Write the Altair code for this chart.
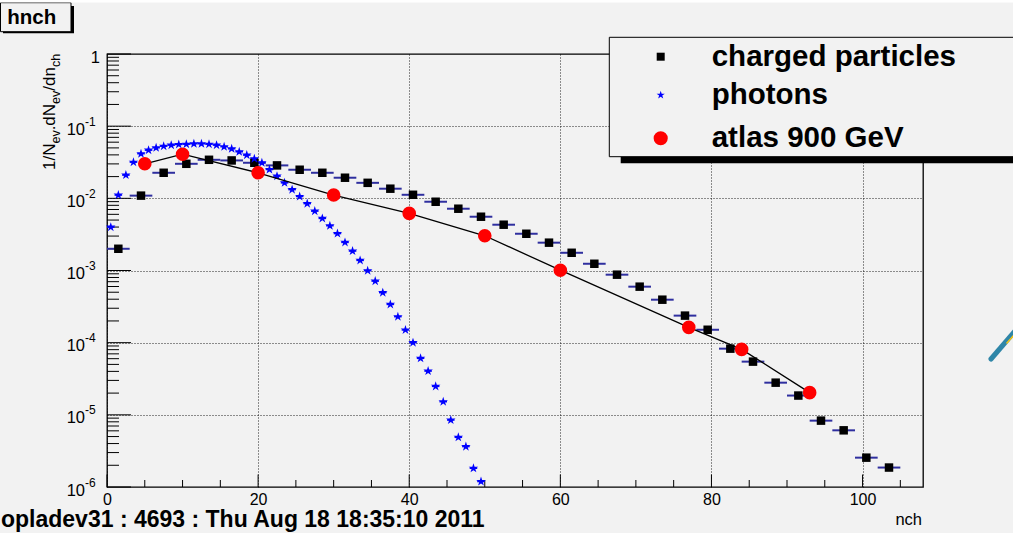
import altair as alt
import pandas as pd

# ---------------- data ----------------
charged_x = [1.5, 4.5, 7.5, 10.5, 13.5, 16.5, 19.5, 22.5, 25.5, 28.5,
             31.5, 34.5, 37.5, 40.5, 43.5, 46.5, 49.5, 52.5, 55.5, 58.5,
             61.5, 64.5, 67.5, 70.5, 73.5, 76.5, 79.5, 82.5, 85.5, 88.5,
             91.5, 94.5, 97.5, 100.5, 103.5]
charged_y = [2.0e-3, 1.09e-2, 2.26e-2, 3.01e-2, 3.42e-2, 3.35e-2, 3.11e-2, 2.86e-2, 2.49e-2, 2.26e-2,
             1.93e-2, 1.64e-2, 1.36e-2, 1.12e-2, 8.97e-3, 7.18e-3, 5.56e-3, 4.31e-3, 3.23e-3, 2.43e-3,
             1.76e-3, 1.24e-3, 8.75e-4, 5.97e-4, 3.94e-4, 2.37e-4, 1.51e-4, 8.26e-5, 5.46e-5, 2.79e-5,
             1.85e-5, 8.31e-6, 6.10e-6, 2.55e-6, 1.86e-6]
charged_halfwidth = 1.5

photon_x = [0.5, 1.5, 2.5, 3.5, 4.5, 5.5, 6.5, 7.5, 8.5, 9.5,
            10.5, 11.5, 12.5, 13.5, 14.5, 15.5, 16.5, 17.5, 18.5, 19.5,
            20.5, 21.5, 22.5, 23.5, 24.5, 25.5, 26.5, 27.5, 28.5, 29.5,
            30.5, 31.5, 32.5, 33.5, 34.5, 35.5, 36.5, 37.5, 38.5, 39.5,
            40.5, 41.5, 42.5, 43.5, 44.5, 45.5, 46.5, 47.5, 48.5, 49.5]
photon_y = [3.99e-3, 1.11e-2, 2.10e-2, 3.17e-2, 4.15e-2, 4.65e-2, 5.02e-2, 5.28e-2, 5.46e-2, 5.58e-2,
            5.63e-2, 5.71e-2, 5.71e-2, 5.63e-2, 5.46e-2, 5.19e-2, 4.86e-2, 4.42e-2, 3.97e-2, 3.54e-2,
            3.11e-2, 2.51e-2, 2.03e-2, 1.64e-2, 1.32e-2, 1.06e-2, 8.45e-3, 6.65e-3, 5.27e-3, 4.17e-3,
            3.25e-3, 2.45e-3, 1.86e-3, 1.38e-3, 9.94e-4, 7.13e-4, 4.93e-4, 3.39e-4, 2.29e-4, 1.50e-4,
            1.00e-4, 6.07e-5, 4.04e-5, 2.48e-5, 1.52e-5, 8.47e-6, 4.88e-6, 3.63e-6, 1.82e-6, 1.19e-6]
photon_halfwidth = 0.5

atlas_x = [5, 10, 20, 30, 40, 50, 60, 77, 84, 93]
atlas_y = [3.01e-2, 4.09e-2, 2.26e-2, 1.11e-2, 6.18e-3, 3.03e-3, 1.01e-3, 1.63e-4, 8.07e-5, 2.03e-5]

legend_labels = ["charged particles", "photons", "atlas 900 GeV"]

x_label_values = [0, 20, 40, 60, 80, 100]
x_minor_ticks = [5, 10, 15, 25, 30, 35, 45, 50, 55, 65, 70, 75, 85, 90, 95, 105]
y_decades = [1e-6, 1e-5, 1e-4, 1e-3, 1e-2, 1e-1]
y_exponents = ["-6", "-5", "-4", "-3", "-2", "-1"]
y_minor_mult = [2, 3, 4, 5, 6, 7, 8, 9]

title_text = "hnch"
footer_text = "opladev31 : 4693 : Thu Aug 18 18:35:10 2011"
x_title = "nch"

# ---------------- layout / style ----------------
W, H = 816, 433
FONT = "Liberation Sans"
BG = "#f2f2f2"
BAR = "#2f2f9f"
STAR = ("M0,-1L0.2245,-0.309L0.9511,-0.309L0.3633,0.118L0.5878,0.809L0,0.382"
        "L-0.5878,0.809L-0.3633,0.118L-0.9511,-0.309L-0.2245,-0.309Z")

xscale = alt.Scale(domain=[0, 108], nice=False, zero=False)
yscale = alt.Scale(type="log", domain=[1e-6, 1], nice=False)
xaxis = alt.Axis(values=x_label_values, grid=True, gridDash=[1, 2], gridColor="black",
                 gridOpacity=0.85, ticks=False, domain=False, labelFontSize=16, labelFont=FONT,
                 labelColor="black", labelPadding=4, title=None, labelFlush=False,
                 labelOverlap=False)
yaxis = alt.Axis(values=[1e-5, 1e-4, 1e-3, 1e-2, 1e-1], grid=True, gridDash=[1, 2],
                 gridColor="black", gridOpacity=0.85, ticks=False, domain=False,
                 labels=False, title=None)


def X(f):
    return alt.X(f, type="quantitative", scale=xscale, axis=xaxis)


def Y(f):
    return alt.Y(f, type="quantitative", scale=yscale, axis=yaxis)


one = alt.Data(values=[{"k": 0}])

df_c = pd.DataFrame({"x": charged_x, "y": charged_y})
df_c["xlo"] = df_c["x"] - charged_halfwidth
df_c["xhi"] = df_c["x"] + charged_halfwidth
df_p = pd.DataFrame({"x": photon_x, "y": photon_y})
df_p["xlo"] = df_p["x"] - photon_halfwidth
df_p["xhi"] = df_p["x"] + photon_halfwidth
df_a = pd.DataFrame({"x": atlas_x, "y": atlas_y})

df_xmaj = pd.DataFrame({"x": x_label_values})
df_xmin = pd.DataFrame({"x": x_minor_ticks})
df_ymaj = pd.DataFrame({"v": y_decades + [1.0]})
df_ymin = pd.DataFrame({"v": [m * d for d in y_decades for m in y_minor_mult]})
df_ylab = pd.DataFrame({"v": y_decades, "e": y_exponents})

layers = []

# ticks (inward)
layers.append(alt.Chart(df_xmaj).mark_rule(color="black", strokeWidth=1).encode(
    x=X("x"), y=alt.value(H), y2=alt.value(H - 12.5)))
layers.append(alt.Chart(df_xmin).mark_rule(color="black", strokeWidth=1).encode(
    x=X("x"), y=alt.value(H), y2=alt.value(H - 7)))
layers.append(alt.Chart(df_ymaj).mark_rule(color="black", strokeWidth=1).encode(
    y=Y("v"), x=alt.value(0), x2=alt.value(24)))
layers.append(alt.Chart(df_ymin).mark_rule(color="black", strokeWidth=1).encode(
    y=Y("v"), x=alt.value(0), x2=alt.value(12)))

# y tick labels 10^n
layers.append(alt.Chart(df_ylab).mark_text(text="10", align="right", baseline="middle",
                                           fontSize=16.5, font=FONT, color="black", dy=3.5).encode(
    y=Y("v"), x=alt.value(-22)))
layers.append(alt.Chart(df_ylab).mark_text(align="left", baseline="middle",
                                           fontSize=12, font=FONT, color="black", dy=-4.5).encode(
    y=Y("v"), x=alt.value(-22), text="e:N"))
layers.append(alt.Chart(pd.DataFrame({"v": [1.0]})).mark_text(
    text="1", align="right", baseline="middle", fontSize=16.5, font=FONT, color="black", dy=4).encode(
    y=Y("v"), x=alt.value(-7)))

# y axis title with subscripts
pieces = [("1/N", 0, 17, 0), ("ev", 26.45, 12.5, 5), (".dN", 39.65, 17, 0),
          ("ev", 66.1, 12.5, 5), ("/dn", 79.3, 17, 0), ("ch", 102.9, 12.5, 5)]
for txt, dx, fs, dy in pieces:
    layers.append(alt.Chart(one).mark_text(
        text=txt, angle=270, align="left", baseline="alphabetic", fontSize=fs, font=FONT,
        color="black", dx=dx, dy=dy).encode(x=alt.value(-52), y=alt.value(116)))

# x axis title
layers.append(alt.Chart(one).mark_text(text=x_title, align="right", baseline="alphabetic",
                                       fontSize=16.5, font=FONT, color="black").encode(
    x=alt.value(815), y=alt.value(471)))

# data: error bars, markers, line
layers.append(alt.Chart(df_c).mark_rule(color=BAR, strokeWidth=2).encode(
    x=X("xlo"), x2="xhi", y=Y("y")))
layers.append(alt.Chart(df_p).mark_rule(color="#0000ff", strokeWidth=1.5).encode(
    x=X("xlo"), x2="xhi", y=Y("y")))
layers.append(alt.Chart(df_c).mark_point(shape="square", filled=True, size=72, color="black",
                                         opacity=1).encode(x=X("x"), y=Y("y")))
layers.append(alt.Chart(df_p).mark_point(shape=STAR, filled=True, size=100, color="#0000ff",
                                         opacity=1).encode(x=X("x"), y=Y("y")))
layers.append(alt.Chart(df_a).mark_line(color="black", strokeWidth=1.3).encode(
    x=X("x"), y=Y("y")))
layers.append(alt.Chart(df_a).mark_point(shape="circle", filled=True, size=185, color="#ff0000",
                                         opacity=1).encode(x=X("x"), y=Y("y")))

# legend box with shadow
layers.append(alt.Chart(one).mark_rect(color="black").encode(
    x=alt.value(513.7), x2=alt.value(912), y=alt.value(-10), y2=alt.value(109.3)))
layers.append(alt.Chart(one).mark_rect(fill=BG, stroke="black", strokeWidth=1).encode(
    x=alt.value(502.3), x2=alt.value(912), y=alt.value(-16.7), y2=alt.value(102.7)))
leg_y = [2.7, 41, 84.3]
leg_marks = [dict(shape="square", size=64, color="black"),
             dict(shape=STAR, size=75, color="#0000ff"),
             dict(shape="circle", size=200, color="#ff0000")]
for lab, yy, mk in zip(legend_labels, leg_y, leg_marks):
    layers.append(alt.Chart(one).mark_point(filled=True, opacity=1, **mk).encode(
        x=alt.value(553.7), y=alt.value(yy)))
    layers.append(alt.Chart(one).mark_text(text=lab, align="left", baseline="middle",
                                           fontSize=29.5, fontWeight="bold", font=FONT,
                                           color="black").encode(
        x=alt.value(604.7), y=alt.value(yy)))

# title box "hnch"
layers.append(alt.Chart(one).mark_rect(color="black").encode(
    x=alt.value(-104), x2=alt.value(-33), y=alt.value(-48), y2=alt.value(-20.7)))
layers.append(alt.Chart(one).mark_rect(fill=BG, stroke="black", strokeWidth=1).encode(
    x=alt.value(-106.5), x2=alt.value(-36), y=alt.value(-51.3), y2=alt.value(-22.3)))
layers.append(alt.Chart(one).mark_text(text=title_text, align="left", baseline="middle",
                                       fontSize=20.5, fontWeight="bold", font=FONT,
                                       color="black").encode(
    x=alt.value(-99.7), y=alt.value(-35.7)))

# footer
layers.append(alt.Chart(one).mark_text(text=footer_text, align="left", baseline="alphabetic",
                                       fontSize=23, fontWeight="bold", font=FONT,
                                       color="black").encode(
    x=alt.value(-106), y=alt.value(473)))

# white strip at the top and the small pencil artefact at the right
layers.append(alt.Chart(one).mark_rect(color="white").encode(
    x=alt.value(-107), x2=alt.value(906), y=alt.value(-54), y2=alt.value(-51.5)))
layers.append(alt.Chart(one).mark_rule(color="#2f86a8", strokeWidth=5, strokeCap="round").encode(
    x=alt.value(884), x2=alt.value(908), y=alt.value(305), y2=alt.value(277)))
layers.append(alt.Chart(one).mark_rule(color="#f5c518", strokeWidth=1.5).encode(
    x=alt.value(899.5), x2=alt.value(908), y=alt.value(289.5), y2=alt.value(280)))

chart = alt.layer(*layers).properties(
    width=W, height=H,
    autosize=alt.AutoSizeParams(type="none"),
    padding={"left": 107, "top": 54, "right": 90, "bottom": 46},
    background=BG,
).configure_view(stroke="black", strokeWidth=1.3, fill=None)

chart.save("out.html", embed_options={"renderer": "svg", "actions": False})
